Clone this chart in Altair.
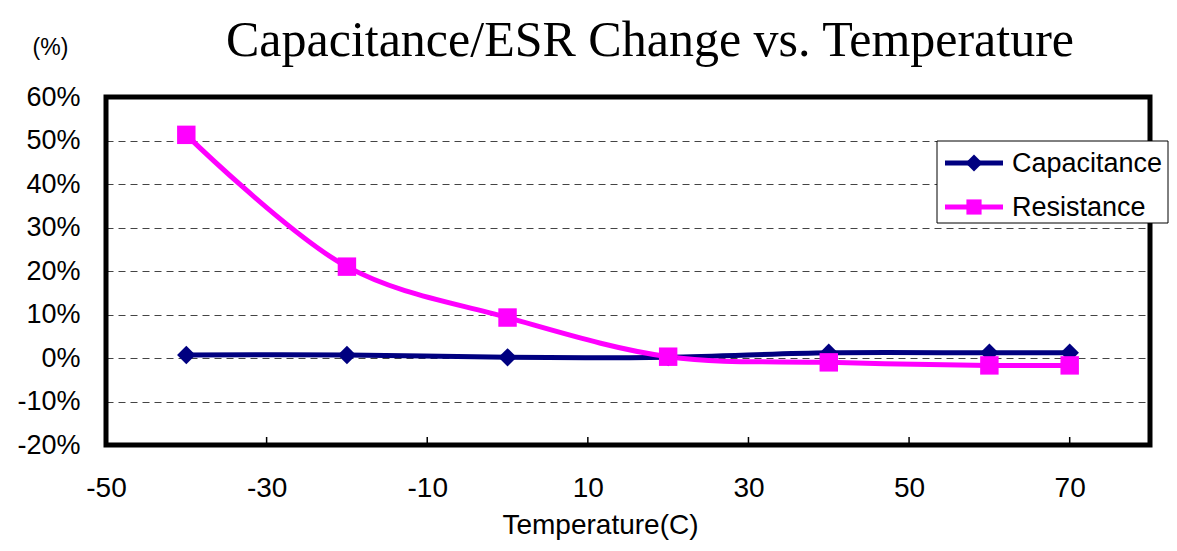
import altair as alt
import pandas as pd

# ---- data ----
temps = [-40, -20, 0, 20, 40, 60, 70]
capacitance = [0.7, 0.7, 0.15, 0.2, 1.2, 1.2, 1.2]
resistance = [51.3, 21.0, 9.3, 0.3, -1.0, -1.7, -1.7]
series_names = ["Capacitance", "Resistance"]
series_colors = ["#000080", "#FF00FF"]
series_shapes = ["diamond", "square"]
x_ticks = [-50, -30, -10, 10, 30, 50, 70]
y_ticks = [-20, -10, 0, 10, 20, 30, 40, 50, 60]
title_text = "Capacitance/ESR Change vs. Temperature"
x_title = "Temperature(C)"
y_unit = "(%)"

rows = []
for name, vals in zip(series_names, [capacitance, resistance]):
    for t, v in zip(temps, vals):
        rows.append({"temp": t, "series": name, "value": v})
df = pd.DataFrame(rows)

W, H = 1044, 348
FONT = "Liberation Sans"

xscale = alt.Scale(domain=[-50, 80], nice=False, zero=False)
yscale = alt.Scale(domain=[-20, 60], nice=False, zero=False)
cscale = alt.Scale(domain=series_names, range=series_colors)
sscale = alt.Scale(domain=series_names, range=series_shapes)

x_axis = alt.Axis(values=x_ticks, title=x_title, ticks=False, domain=False, grid=False,
                  labelExpr="datum.value + ''", labelFlush=False,
                  labelFont=FONT, labelFontSize=28, labelColor="black", labelPadding=29,
                  titleFont=FONT, titleFontSize=28, titleFontWeight="normal", titleColor="black",
                  titleX=494, titleY=88, titleAlign="center", titleBaseline="alphabetic")
y_axis = alt.Axis(values=y_ticks, title=y_unit, ticks=False, domain=False, grid=True,
                  gridDash=[7, 5], gridColor="#444444", gridWidth=1,
                  labelExpr="datum.value + '%'", labelFlush=False,
                  labelFont=FONT, labelFontSize=27, labelColor="black", labelPadding=26,
                  titleFont=FONT, titleFontSize=23, titleFontWeight="normal", titleColor="black",
                  titleAngle=0, titleX=-56, titleY=-50, titleAlign="center", titleBaseline="middle")

base = alt.Chart(df)

lines = base.mark_line(interpolate="catmull-rom", strokeWidth=5).encode(
    x=alt.X("temp:Q", scale=xscale, axis=x_axis),
    y=alt.Y("value:Q", scale=yscale, axis=y_axis),
    color=alt.Color("series:N", scale=cscale, legend=None),
)
points = base.mark_point(filled=True, opacity=1, size=340).encode(
    x=alt.X("temp:Q", scale=xscale),
    y=alt.Y("value:Q", scale=yscale),
    color=alt.Color("series:N", scale=cscale, legend=None),
    shape=alt.Shape("series:N", scale=sscale, legend=None),
)

tick_df = pd.DataFrame({"temp": x_ticks})
ticks = alt.Chart(tick_df).mark_rule(color="black", strokeWidth=1.5).encode(
    x=alt.X("temp:Q", scale=xscale),
    y=alt.value(H), y2=alt.value(H - 8),
)

one = pd.DataFrame({"k": [0]})
frame = alt.Chart(one).mark_rect(fill="transparent", stroke="black", strokeWidth=5).encode(
    x=alt.value(0), x2=alt.value(W), y=alt.value(0), y2=alt.value(H)
)

title = alt.Chart(one).mark_text(font="Liberation Serif", fontSize=50, color="black",
                                 align="center", baseline="alphabetic").encode(
    x=alt.value(544), y=alt.value(-41), text=alt.value(title_text)
)

# legend box
lx0, lx1, ly0, ly1 = 831, 1062, 44, 126
legend_box = alt.Chart(one).mark_rect(fill="white", stroke="black", strokeWidth=1).encode(
    x=alt.value(lx0), x2=alt.value(lx1), y=alt.value(ly0), y2=alt.value(ly1)
)
legend_layers = [legend_box]
for i, (name, col, shp) in enumerate(zip(series_names, series_colors, series_shapes)):
    yy = 66 + i * 44
    legend_layers.append(alt.Chart(one).mark_rule(color=col, strokeWidth=5).encode(
        x=alt.value(839), x2=alt.value(897), y=alt.value(yy)))
    legend_layers.append(alt.Chart(one).mark_point(filled=True, opacity=1, color=col, shape=shp,
                                                   size=290 if shp == "diamond" else 230).encode(
        x=alt.value(868), y=alt.value(yy)))
    legend_layers.append(alt.Chart(one).mark_text(font=FONT, fontSize=27, color="black",
                                                  align="left", baseline="middle").encode(
        x=alt.value(906), y=alt.value(yy + 1), text=alt.value(name)))

chart = alt.layer(lines, points, ticks, frame, title, *legend_layers).properties(
    width=W, height=H,
    autosize=alt.AutoSizeParams(type="none"),
    padding={"left": 98, "top": 89, "right": 19, "bottom": 98},
    background="white",
).configure_view(stroke=None)

chart.save("out.html", embed_options={"renderer": "svg", "actions": False})
